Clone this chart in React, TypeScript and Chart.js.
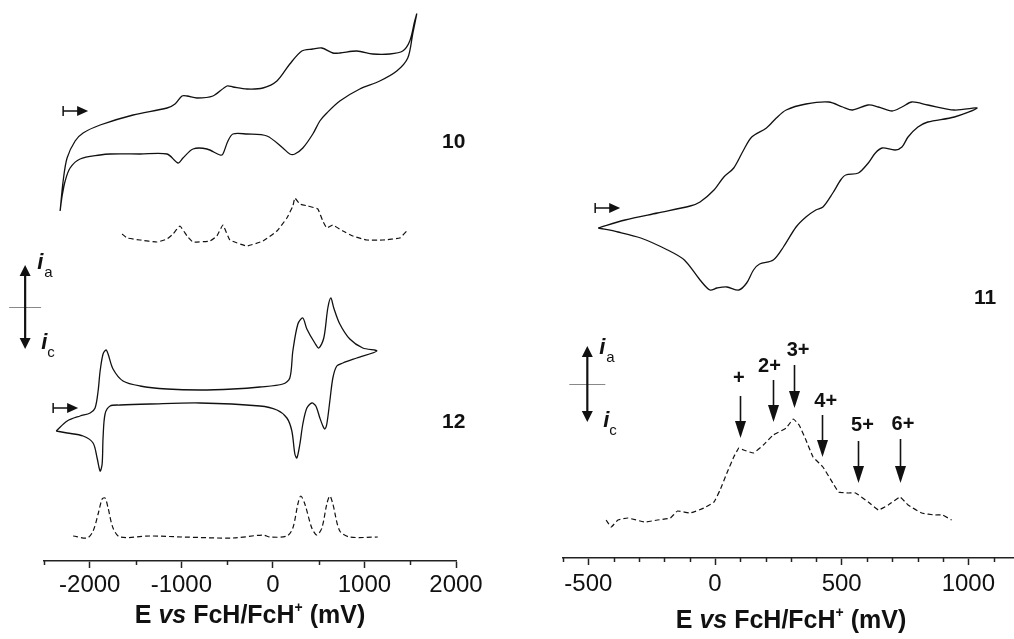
import React, { useEffect, useRef } from "react";
import { Chart, registerables } from "chart.js";
Chart.register(...registerables);

const FONT = "'Liberation Sans', Arial, Helvetica, sans-serif";
const INK = "#111111";
const AXIS = "#222222";

// ---------- Left panel (compounds 10 and 12), E in mV, current in arbitrary units ----------
const leftTicks = [-2500, -2000, -1500, -1000, -500, 0, 500, 1000, 1500, 2000];
const leftMajor = [-2000, -1000, 0, 1000, 2000];

const cv10E = [-2324, -2291, -2248, -2160, -2073, -1887, -1527, -1156, -1069, -993, -938, -829, -655, -502, -436, -284, -109, 44, 185, 316, 436, 535, 655, 731, 917, 1091, 1277, 1418, 1495, 1549, 1571, 1527, 1473, 1353, 1167, 949, 731, 589, 513, 436, 327, 240, 185, 109, -65, -284, -436, -491, -546, -578, -720, -873, -982, -1036, -1156, -1451, -1778, -1887, -2106, -2215, -2269, -2302, -2324];
const cv10I = [350, 380, 403, 420, 428, 436, 446, 453, 457, 465, 465, 463, 465, 475, 474, 472, 473, 480, 497, 510, 512, 513, 508, 508, 510, 507, 507, 510, 520, 540, 547, 527, 503, 490, 480, 472, 460, 448, 440, 427, 413, 407, 407, 413, 425, 427, 427, 420, 407, 406, 412, 412, 403, 398, 407, 407, 407, 406, 402, 393, 380, 365, 350];

const swv10E = [-1647, -1593, -1451, -1265, -1156, -1091, -1015, -938, -873, -687, -611, -546, -469, -284, -109, 44, 153, 218, 240, 295, 382, 491, 545, 589, 655, 764, 873, 1026, 1200, 1386, 1462];
const swv10I = [327, 323, 321, 319, 322, 327, 335, 325, 319, 320, 325, 336, 321, 315, 320, 330, 343, 355, 363, 357, 355, 352, 340, 333, 336, 330, 325, 321, 321, 323, 330];

const cv12E = [-2367, -2247, -2106, -1996, -1942, -1909, -1887, -1855, -1822, -1800, -1746, -1637, -1451, -1156, -796, -436, -142, 109, 185, 218, 273, 327, 371, 458, 502, 556, 600, 633, 665, 731, 840, 982, 1135, 916, 764, 698, 655, 622, 589, 567, 546, 513, 469, 425, 371, 327, 295, 262, 240, 207, 153, 44, -142, -796, -1342, -1669, -1778, -1833, -1855, -1865, -1887, -1920, -1964, -2073, -2247, -2367];
const cv12I = [130, 140, 145, 148, 153, 170, 190, 207, 211, 207, 192, 180, 175, 172, 171, 172, 174, 177, 183, 210, 237, 243, 232, 218, 213, 223, 253, 263, 253, 237, 222, 213, 210, 203, 198, 195, 183, 160, 137, 132, 135, 143, 155, 158, 153, 137, 117, 103, 107, 130, 143, 151, 155, 158, 157, 156, 155, 147, 123, 97, 90, 103, 118, 125, 128, 130];

const swv12E = [-2182, -2029, -1964, -1909, -1865, -1833, -1800, -1746, -1669, -1342, -982, -436, -109, -33, 153, 218, 273, 305, 349, 425, 480, 535, 589, 622, 655, 731, 840, 1146];
const swv12I = [25, 23, 30, 47, 62, 63, 53, 33, 24, 25, 24, 23, 26, 24, 25, 33, 57, 65, 57, 33, 26, 33, 57, 65, 57, 30, 24, 24];

// ---------- Right panel (compound 11) ----------
const rightTicks = [-600, -500, -400, -300, -200, -100, 0, 100, 200, 300, 400, 500, 600, 700, 800, 900, 1000, 1100, 1200];
const rightMajor = [-500, 0, 500, 1000];

const cv11E = [-461, -355, -227, -98, -59, -4, 35, 74, 113, 145, 203, 242, 281, 359, 449, 504, 543, 605, 645, 699, 738, 777, 840, 945, 1035, 945, 840, 801, 762, 738, 711, 660, 633, 605, 566, 516, 496, 465, 426, 398, 359, 320, 270, 230, 176, 152, 125, 94, 47, 8, -20, -59, -121, -187, -293, -383, -461];
const cv11I = [330, 338, 345, 352, 356, 368, 381, 390, 408, 421, 430, 440, 448, 454, 456, 451, 448, 453, 451, 447, 451, 456, 453, 448, 450, 441, 436, 431, 421, 411, 408, 410, 405, 395, 385, 383, 378, 365, 351, 348, 341, 331, 311, 298, 294, 288, 275, 268, 271, 270, 268, 278, 298, 308, 320, 326, 330];

const swv11E = [-430, -410, -383, -344, -277, -227, -176, -148, -98, -43, -4, 20, 47, 74, 94, 113, 152, 191, 230, 281, 309, 332, 359, 387, 426, 465, 488, 527, 555, 605, 645, 684, 730, 762, 816, 867, 898, 934];
const swv11I = [38, 31, 38, 40, 36, 38, 40, 47, 45, 50, 56, 68, 85, 101, 110, 108, 105, 113, 123, 130, 139, 133, 118, 101, 91, 75, 66, 65, 65, 56, 48, 53, 61, 53, 45, 43, 43, 38];

// oxidation-state peak markers for 11
const peakLabels = ["+", "2+", "3+", "4+", "5+", "6+"];
const peakArrowE = [98, 227, 313, 422, 566, 730];
const peakArrowTipI = [120, 136, 150, 101, 75, 75];
const peakArrowTopI = [162, 178, 193, 143, 117, 119];
const peakLabelE = [94, 215, 328, 437, 582, 742];
const peakLabelI = [180, 192, 208, 157, 133, 134];

const zip = (xs: number[], ys: number[]) => xs.map((x, i) => ({ x, y: ys[i] }));

function arrowHeadV(ctx: CanvasRenderingContext2D, x: number, tipY: number, dir: number, len: number, w: number) {
  ctx.beginPath();
  ctx.moveTo(x, tipY);
  ctx.lineTo(x - w / 2, tipY - dir * len);
  ctx.lineTo(x + w / 2, tipY - dir * len);
  ctx.closePath();
  ctx.fill();
}

type Spec = {
  minor: number[];
  titleCenter: number;
  titleDy: number;
  starts: { E: number; I: number }[];
  names: { t: string; E: number; I: number }[];
  ind: { E: number; I: number; half: number; lineHalf: number; ia: number[]; ic: number[] };
  peaks?: boolean;
};

function decor(spec: Spec) {
  return {
    id: "decor",
    afterDraw(chart: any) {
      const ctx: CanvasRenderingContext2D = chart.ctx;
      const xs = chart.scales.x;
      const ys = chart.scales.y;
      const px = (v: number) => xs.getPixelForValue(v);
      const py = (v: number) => ys.getPixelForValue(v);
      const base = chart.chartArea.bottom;
      ctx.save();
      // minor ticks
      ctx.strokeStyle = AXIS;
      ctx.lineWidth = 1.5;
      for (const t of spec.minor) {
        const x = Math.round(px(t)) + 0.5;
        ctx.beginPath();
        ctx.moveTo(x, base);
        ctx.lineTo(x, base + 4);
        ctx.stroke();
      }
      // axis title with mixed styles
      const parts = [
        { t: "E ", f: `bold 25px ${FONT}`, dy: 0 },
        { t: "vs", f: `italic bold 25px ${FONT}`, dy: 0 },
        { t: " FcH/FcH", f: `bold 25px ${FONT}`, dy: 0 },
        { t: "+", f: `bold 14px ${FONT}`, dy: -11 },
        { t: " (mV)", f: `bold 25px ${FONT}`, dy: 0 },
      ];
      let total = 0;
      for (const p of parts) { ctx.font = p.f; total += ctx.measureText(p.t).width; }
      let x0 = px(spec.titleCenter) - total / 2;
      const by = base + spec.titleDy;
      ctx.fillStyle = INK;
      ctx.textBaseline = "alphabetic";
      ctx.textAlign = "left";
      for (const p of parts) {
        ctx.font = p.f;
        ctx.fillText(p.t, x0, by + p.dy);
        x0 += ctx.measureText(p.t).width;
      }
      // scan start markers |->
      ctx.strokeStyle = INK;
      ctx.fillStyle = INK;
      ctx.lineWidth = 1.5;
      for (const s of spec.starts) {
        const x = px(s.E), y = py(s.I);
        ctx.beginPath();
        ctx.moveTo(x, y - 5); ctx.lineTo(x, y + 5);
        ctx.moveTo(x, y); ctx.lineTo(x + 16, y);
        ctx.stroke();
        ctx.beginPath();
        ctx.moveTo(x + 25, y);
        ctx.lineTo(x + 14, y - 5);
        ctx.lineTo(x + 14, y + 5);
        ctx.closePath();
        ctx.fill();
      }
      // compound numbers
      ctx.font = `bold 21px ${FONT}`;
      ctx.textAlign = "center";
      ctx.textBaseline = "middle";
      for (const n of spec.names) ctx.fillText(n.t, px(n.E), py(n.I));
      // i_a / i_c indicator
      const ix = px(spec.ind.E), iy = py(spec.ind.I), h = spec.ind.half;
      ctx.strokeStyle = "#888";
      ctx.lineWidth = 1;
      ctx.beginPath();
      ctx.moveTo(ix - spec.ind.lineHalf, iy + 0.5);
      ctx.lineTo(ix + spec.ind.lineHalf, iy + 0.5);
      ctx.stroke();
      ctx.strokeStyle = INK;
      ctx.lineWidth = 2.2;
      ctx.beginPath();
      ctx.moveTo(ix, iy - h + 8);
      ctx.lineTo(ix, iy + h - 8);
      ctx.stroke();
      arrowHeadV(ctx, ix, iy - h, -1, 11, 11);
      arrowHeadV(ctx, ix, iy + h, 1, 11, 11);
      ctx.textAlign = "left";
      ctx.textBaseline = "alphabetic";
      ctx.font = `italic bold 22px ${FONT}`;
      ctx.fillText("i", ix + spec.ind.ia[0], iy + spec.ind.ia[1]);
      ctx.fillText("i", ix + spec.ind.ic[0], iy + spec.ind.ic[1]);
      ctx.font = `15px ${FONT}`;
      ctx.fillText("a", ix + spec.ind.ia[0] + 7, iy + spec.ind.ia[1] + 8);
      ctx.fillText("c", ix + spec.ind.ic[0] + 6, iy + spec.ind.ic[1] + 8);
      // oxidation-state arrows
      if (spec.peaks) {
        ctx.lineWidth = 1.6;
        for (let i = 0; i < peakLabels.length; i++) {
          const x = Math.round(px(peakArrowE[i])) + 0.5;
          const top = py(peakArrowTopI[i]);
          const tip = py(peakArrowTipI[i]);
          ctx.beginPath();
          ctx.moveTo(x, top);
          ctx.lineTo(x, tip - 12);
          ctx.stroke();
          arrowHeadV(ctx, x, tip, 1, 17, 11);
          ctx.font = `bold 20px ${FONT}`;
          ctx.textAlign = "center";
          ctx.textBaseline = "middle";
          ctx.fillText(peakLabels[i], px(peakLabelE[i]), py(peakLabelI[i]));
        }
      }
      ctx.restore();
    },
  };
}

function makeConfig(opts: {
  min: number; max: number; ticks: number[]; major: number[]; ymax: number;
  pad: { left: number; right: number; bottom: number }; tickPad: number;
  datasets: any[]; spec: Spec;
}) {
  return {
    type: "scatter" as const,
    data: { datasets: opts.datasets },
    options: {
      animation: false,
      responsive: false,
      events: [],
      layout: { padding: { left: opts.pad.left, right: opts.pad.right, top: 0, bottom: opts.pad.bottom } },
      plugins: { legend: { display: false }, tooltip: { enabled: false }, title: { display: false } },
      scales: {
        x: {
          type: "linear",
          min: opts.min,
          max: opts.max,
          afterBuildTicks: (axis: any) => { axis.ticks = opts.ticks.map((v) => ({ value: v })); },
          afterFit: (axis: any) => { axis.height = 40; },
          border: { display: true, color: AXIS, width: 1.6 },
          grid: {
            drawOnChartArea: false,
            drawTicks: true,
            tickLength: 7,
            tickWidth: 1.5,
            tickColor: (c: any) => (c.tick && opts.major.includes(c.tick.value) ? AXIS : "rgba(0,0,0,0)"),
          },
          ticks: {
            autoSkip: false,
            maxRotation: 0,
            minRotation: 0,
            padding: opts.tickPad,
            color: INK,
            font: { family: FONT, size: 24 },
            callback: (v: any) => (opts.major.includes(Number(v)) ? String(v) : ""),
          },
        },
        y: { type: "linear", display: false, min: 0, max: opts.ymax },
      },
    },
    plugins: [decor(opts.spec)],
  };
}

const solid = (data: any[], tension: number) => ({
  data, showLine: true, pointRadius: 0, borderColor: INK, borderWidth: 1.3, tension, fill: false,
});
const dashed = (data: any[], tension: number) => ({
  data, showLine: true, pointRadius: 0, borderColor: INK, borderWidth: 1.2, borderDash: [5, 3], tension, fill: false,
});

function Panel(props: { left: number; width: number; config: () => any }) {
  const ref = useRef<HTMLCanvasElement | null>(null);
  useEffect(() => {
    if (!ref.current) return;
    const chart = new Chart(ref.current, props.config() as any);
    return () => chart.destroy();
  }, []);
  return (
    <canvas
      ref={ref}
      width={props.width}
      height={639}
      style={{ position: "absolute", left: props.left, top: 0, width: props.width, height: 639 }}
    />
  );
}

export default function App() {
  const leftConfig = () =>
    makeConfig({
      min: -2500, max: 2000, ticks: leftTicks, major: leftMajor, ymax: 561,
      pad: { left: 44, right: 54, bottom: 639 - 561 - 40 }, tickPad: 3,
      datasets: [
        solid(zip(cv10E, cv10I), 0.3),
        dashed(zip(swv10E, swv10I), 0.1),
        solid(zip(cv12E, cv12I), 0.3),
        dashed(zip(swv12E, swv12I), 0.3),
      ],
      spec: {
        minor: leftTicks.filter((t) => !leftMajor.includes(t)),
        titleCenter: -250,
        titleDy: 62,
        starts: [{ E: -2291, I: 450 }, { E: -2400, I: 153 }],
        names: [{ t: "10", E: 1975, I: 419 }, { t: "12", E: 1975, I: 139 }],
        ind: { E: -2706, I: 254, half: 42, lineHalf: 16, ia: [12, -38], ic: [16, 42] },
      },
    });
  const rightConfig = () =>
    makeConfig({
      min: -600, max: 1200, ticks: rightTicks, major: rightMajor, ymax: 558,
      pad: { left: 43, right: 0, bottom: 639 - 558 - 40 }, tickPad: 5,
      datasets: [solid(zip(cv11E, cv11I), 0.3), dashed(zip(swv11E, swv11I), 0.1)],
      spec: {
        minor: rightTicks.filter((t) => !rightMajor.includes(t)),
        titleCenter: 300,
        titleDy: 70,
        starts: [{ E: -473, I: 350 }],
        names: [{ t: "11", E: 1066, I: 260 }],
        ind: { E: -504, I: 174, half: 38, lineHalf: 18, ia: [12, -30], ic: [16, 43] },
        peaks: true,
      },
    });
  return (
    <div style={{ position: "absolute", left: 0, top: 0, width: 1014, height: 639, overflow: "hidden", background: "#fff" }}>
      <Panel left={0} width={510} config={leftConfig} />
      <Panel left={520} width={504} config={rightConfig} />
    </div>
  );
}
